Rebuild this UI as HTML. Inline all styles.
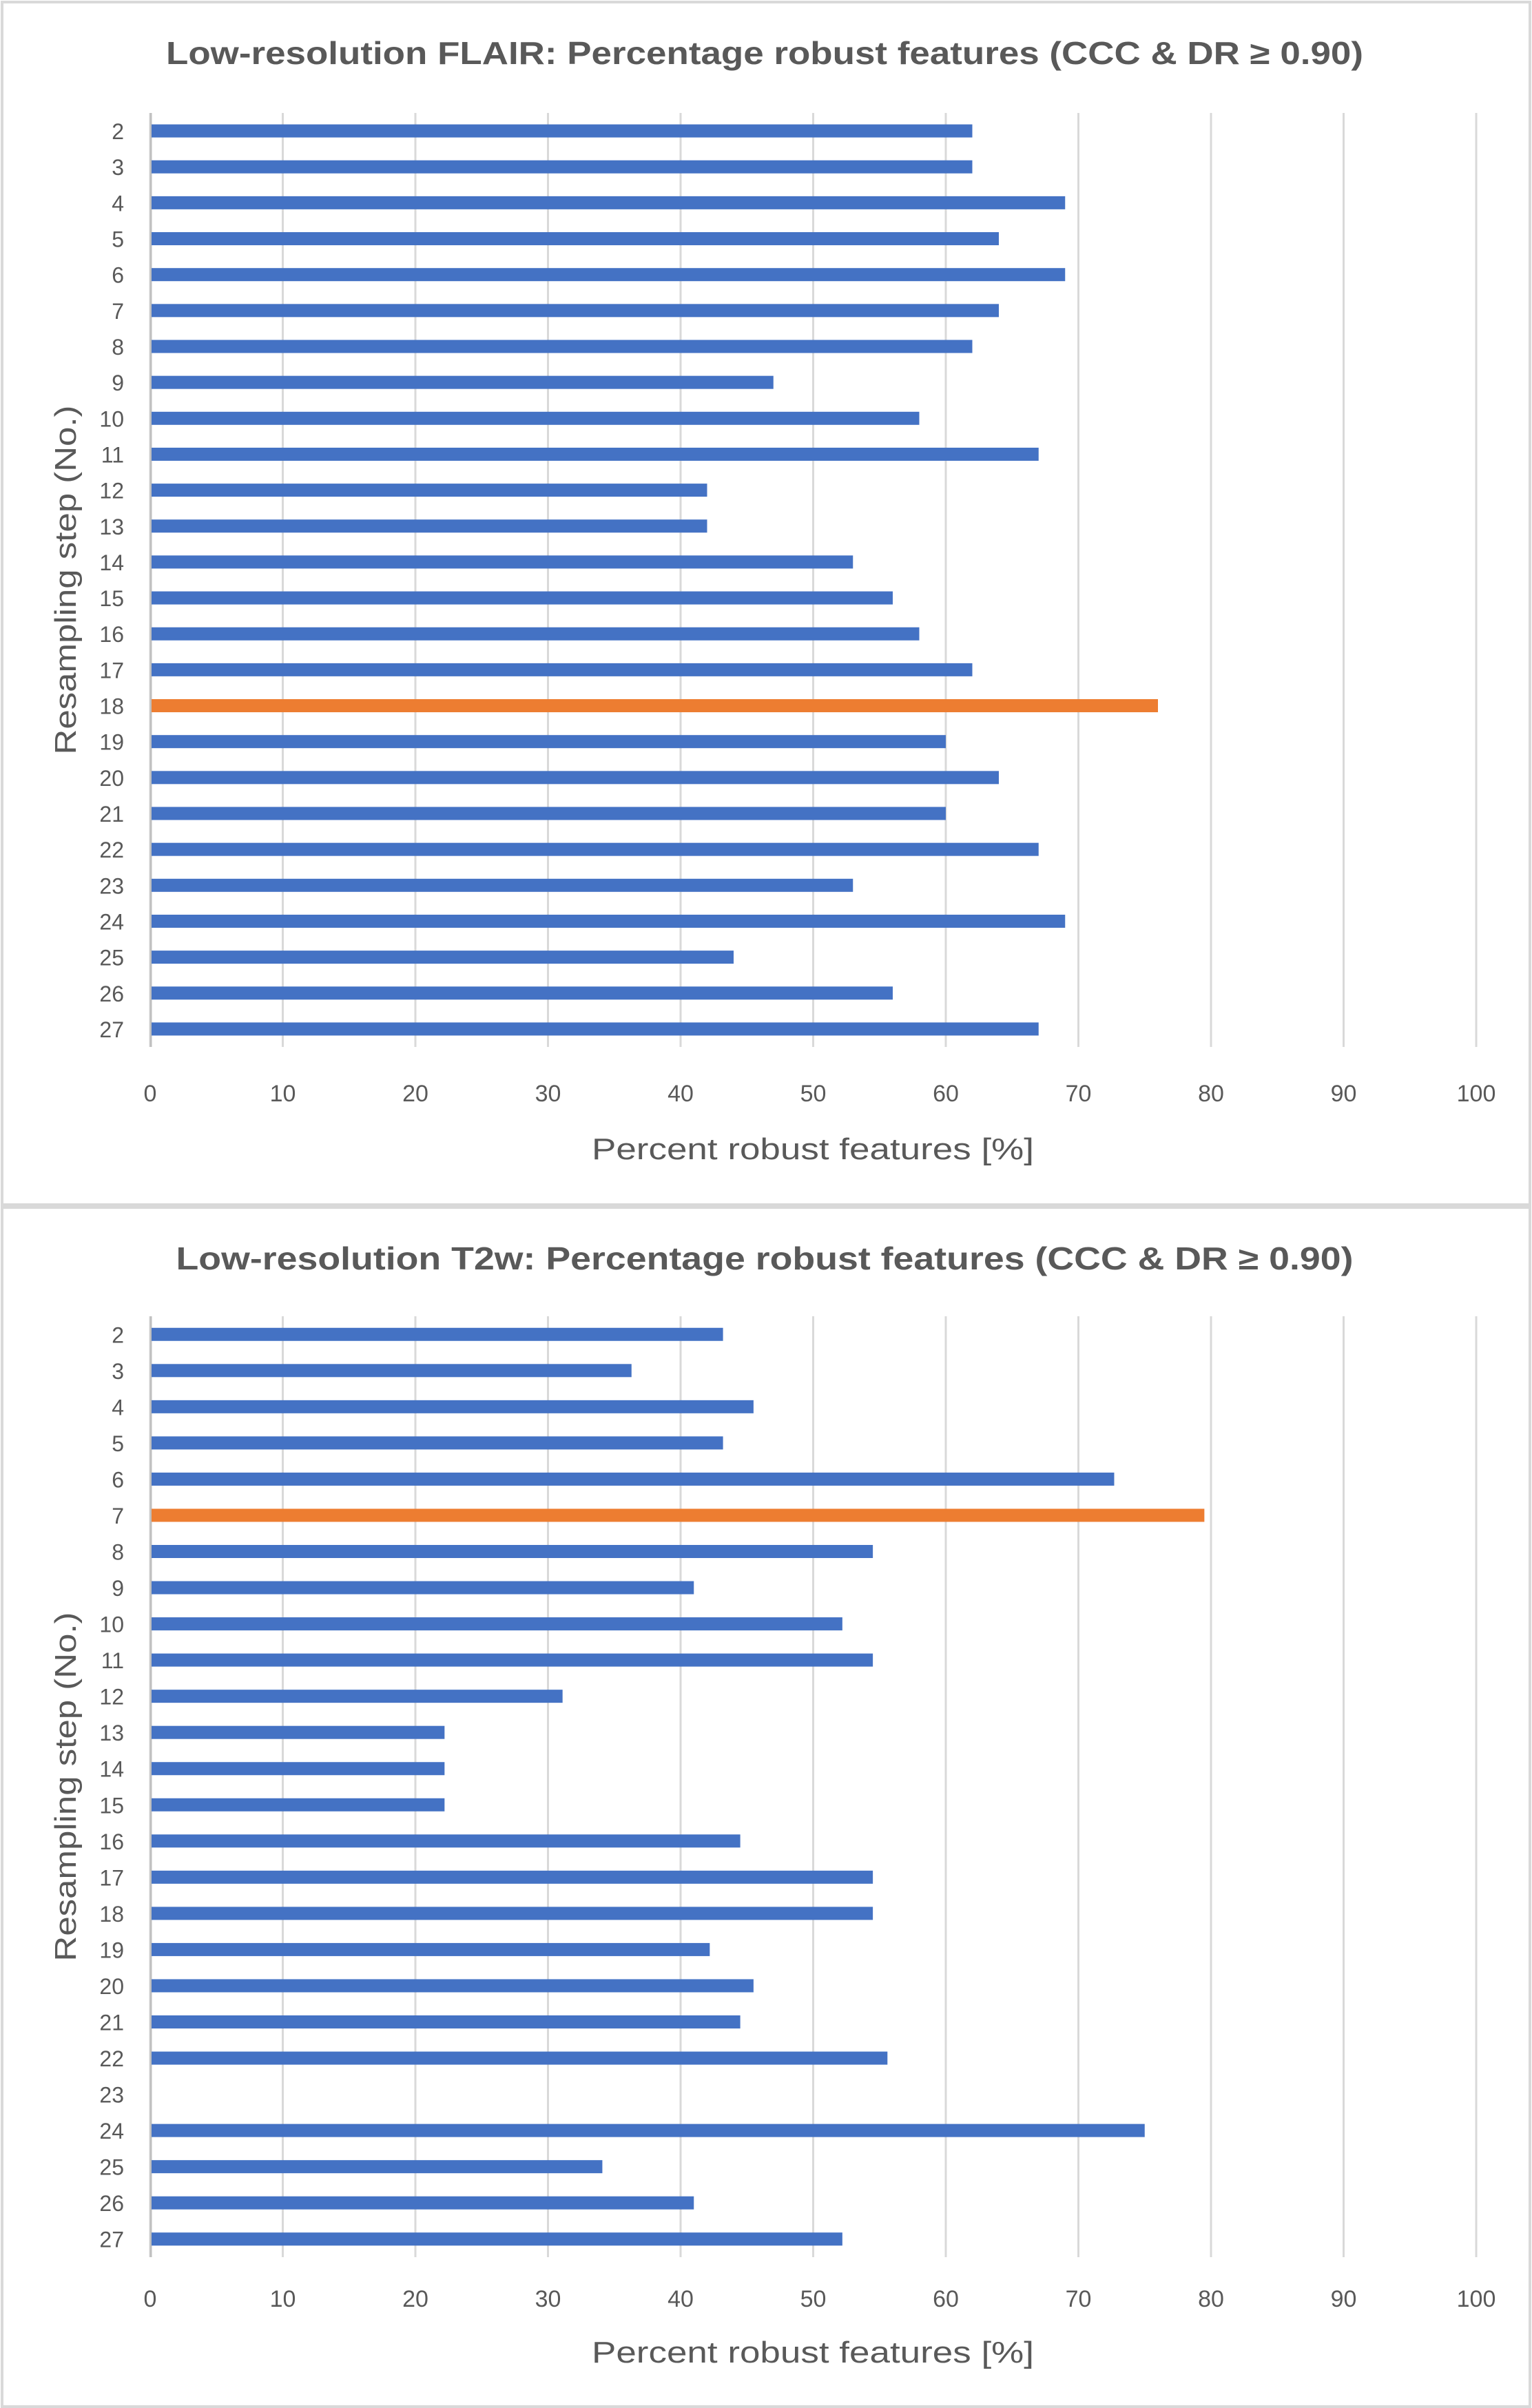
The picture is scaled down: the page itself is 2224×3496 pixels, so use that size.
<!DOCTYPE html>
<html><head><meta charset="utf-8"><style>
html,body{margin:0;padding:0;background:#fff;}
svg{display:block;}
text{font-family:"Liberation Sans",sans-serif;fill:#595959;}
</style></head><body>
<svg id="root" width="2224" height="3496" viewBox="0 0 2224 3496" xmlns="http://www.w3.org/2000/svg">
<rect x="3" y="3" width="2218" height="1746" fill="#fff" stroke="#d9d9d9" stroke-width="4"/>
<rect x="3" y="1753" width="2218" height="1741" fill="#fff" stroke="#d9d9d9" stroke-width="4"/>
<g id="c1"></g>
<g id="c2"></g>
</svg>
<script>
const categories = [2,3,4,5,6,7,8,9,10,11,12,13,14,15,16,17,18,19,20,21,22,23,24,25,26,27];
const flairValues = [62,62,69,64,69,64,62,47,58,67,42,42,53,56,58,62,76,60,64,60,67,53,69,44,56,67];
const flairHighlight = 18;
const t2wValues = [43.2,36.3,45.5,43.2,72.7,79.5,54.5,41.0,52.2,54.5,31.1,22.2,22.2,22.2,44.5,54.5,54.5,42.2,45.5,44.5,55.6,0,75.0,34.1,41.0,52.2];
const t2wHighlight = 7;
const xTicks = [0,10,20,30,40,50,60,70,80,90,100];
const NS = "http://www.w3.org/2000/svg";
function mk(tag, attrs, parent){
  const e = document.createElementNS(NS, tag);
  for (const k in attrs) e.setAttribute(k, attrs[k]);
  parent.appendChild(e);
  return e;
}
function drawChart(g, cfg, values, highlight){
  const x0 = 218, x1 = 2143;
  const xs = v => x0 + (v/100)*(x1-x0);
  const band = (cfg.bottom - cfg.top)/categories.length;
  const yc = i => cfg.top + band*(i+0.5);
  const t = mk('text', {x:1110, y:cfg.titleY, 'text-anchor':'middle', 'font-size':46, 'font-weight':'bold', textLength:cfg.titleLen, lengthAdjust:'spacingAndGlyphs'}, g);
  t.textContent = cfg.title;
  
  
  xTicks.forEach(v => {
    const l = mk('line', {x1:xs(v), x2:xs(v), y1:cfg.top, y2:cfg.bottom, stroke:'#d9d9d9', 'stroke-width':3}, g);
    
    
    const tl = mk('text', {x:xs(v), y:cfg.tickY, 'text-anchor':'middle', 'font-size':34}, g);
    tl.textContent = v;
    
    
  });
  const ax = mk('line', {x1:x0+1, x2:x0+1, y1:cfg.top, y2:cfg.bottom, stroke:'#bfbfbf', 'stroke-width':3}, g);
  
  
  categories.forEach((c, i) => {
    const v = values[i];
    if (v > 0) {
      const r = mk('rect', {x:x0+2, y:yc(i)-9.5, width:Math.max(0, xs(v)-x0-2), height:19, fill:(c===highlight?'#ed7d31':'#4472c4')}, g);
      
      
    }
    const lb = mk('text', {x:180, y:yc(i)+12, 'text-anchor':'end', 'font-size':32}, g);
    lb.textContent = c;
    
    
  });
  const xt = mk('text', {x:1180, y:cfg.xTitleY, 'text-anchor':'middle', 'font-size':44, textLength:642, lengthAdjust:'spacingAndGlyphs'}, g);
  xt.textContent = 'Percent robust features [%]';
  
  
  const cy = (cfg.top + cfg.bottom)/2;
  const yt = mk('text', {x:0, y:0, 'text-anchor':'middle', 'font-size':44, textLength:507, lengthAdjust:'spacingAndGlyphs', transform:'translate(110,'+cy+') rotate(-90)'}, g);
  yt.textContent = 'Resampling step (No.)';
  
  
}
drawChart(document.getElementById('c1'), {title:'Low-resolution FLAIR: Percentage robust features (CCC & DR \u2265 0.90)', titleY:93, titleLen:1738, top:164, bottom:1520, tickY:1599, xTitleY:1683}, flairValues, flairHighlight);
drawChart(document.getElementById('c2'), {title:'Low-resolution T2w: Percentage robust features (CCC & DR \u2265 0.90)', titleY:1843, titleLen:1709, top:1911, bottom:3277, tickY:3349, xTitleY:3430}, t2wValues, t2wHighlight);
</script>
</body></html>
